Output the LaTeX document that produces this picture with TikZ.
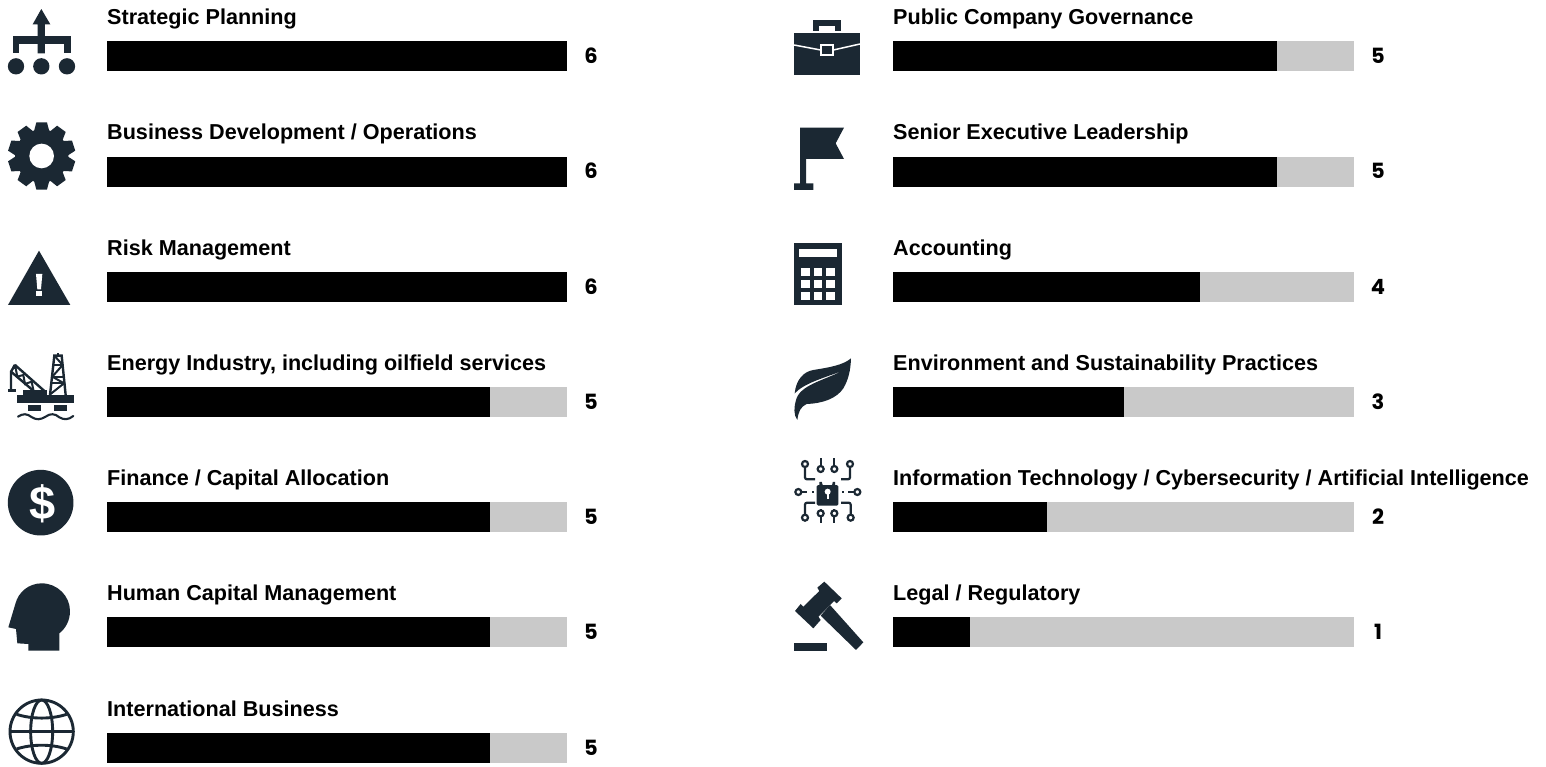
\documentclass[tikz,border=0pt]{standalone}
\usepackage{fontspec}
\setmainfont{Liberation Sans}
\newfontfamily\numfont{Poppins}
\definecolor{ink}{HTML}{1B2833}
\definecolor{track}{HTML}{C9C9C9}
\tikzset{
  zoomed/.style 2 args={shift={(#1,#2)},x=.3333pt,y=-.3333pt},
  labeltext/.style={anchor=base west,inner sep=0pt,font=\fontsize{21.6}{24}\selectfont\bfseries,text=black},
  valuetext/.style={anchor=base,inner sep=0pt,font=\fontsize{21}{24}\numfont\bfseries,text=black},
  icon/.style={fill=ink,draw=none},
  iconline/.style={draw=ink,fill=none,line width=#1},
  iconline/.default=2pt,
  cut/.style={fill=white,draw=none},
  cutline/.style={draw=white,fill=none,line width=#1},
}
% #1 name, #2 bar x, #3 bar top y, #4 track width, #5 value, #6 label
\newcommand{\skillbar}[6]{%
  \fill[track] (#2,#3) rectangle ++(#4,30);
  \fill[black] (#2,#3) rectangle ++({#4*#5/6},30);
  \node[labeltext] (#1-label) at (#2,#3-17) {#6};
  \node[valuetext] (#1-value) at (#2+#4+24,#3+22) {#5};
}
\begin{document}
\begin{tikzpicture}[x=1pt,y=-1pt]
\useasboundingbox (0,0) rectangle (1546,766);
\fill[white] (0,0) rectangle (1546,766);
\skillbar{a}{107}{41}{460}{6}{Strategic Planning}
\skillbar{b}{107}{156.5}{460}{6}{Business Development / Operations}
\skillbar{c}{107}{272}{460}{6}{Risk Management}
\skillbar{d}{107}{387}{460}{5}{Energy Industry, including oilfield services}
\skillbar{e}{107}{502}{460}{5}{Finance / Capital Allocation}
\skillbar{f}{107}{617}{460}{5}{Human Capital Management}
\skillbar{g}{107}{733}{460}{5}{International Business}
\skillbar{h}{893}{41}{461}{5}{Public Company Governance}
\skillbar{i}{893}{156.5}{461}{5}{Senior Executive Leadership}
\skillbar{j}{893}{272}{461}{4}{Accounting}
\skillbar{k}{893}{387}{461}{3}{Environment and Sustainability Practices}
\skillbar{l}{893}{502}{461}{2}{Information Technology / Cybersecurity / Artificial Intelligence}
\skillbar{m}{893}{617}{461}{1}{Legal / Regulatory}

% strategic planning
\begin{scope}[zoomed={0}{0}]
\fill[icon] (124,27)--(151,73)--(135,73)--(135,160)--(113,160)--(113,73)--(98,73)--cycle;
\fill[icon] (38,109) rectangle (212,131);
\fill[icon] (38,109) rectangle (58,160);
\fill[icon] (191,109) rectangle (212,160);
\fill[icon] (48,199) circle (24.5);
\fill[icon] (124,199) circle (24.5);
\fill[icon] (201,199) circle (24.5);
\end{scope}

% gear
\begin{scope}[zoomed={0}{0}]
\fill[icon] (125,468) circle (80);
\foreach \a in {90,126,...,414} {
  \fill[icon] ([shift={(125,468)}]\a-18:76) -- ([shift={(125,468)}]\a-9:102) -- ([shift={(125,468)}]\a+9:102) -- ([shift={(125,468)}]\a+18:76) -- cycle;
}
\fill[cut] (125,468) circle (37);
\end{scope}

% warning triangle
\begin{scope}[zoomed={0}{200}]
\fill[icon] (117,152)--(211,315)--(24,315)--cycle;
\fill[cut] (108,222)--(127,222)--(123,268)--(112,268)--cycle;
\fill[cut] (108,272) rectangle (126,288);
\end{scope}

% oil rig
\begin{scope}[zoomed={0}{200}]
\fill[icon] (52,585) rectangle (222,610);
\fill[icon] (70,570) rectangle (141,585);
\fill[icon] (84,616) rectangle (124,633);
\fill[icon] (161,616) rectangle (201,633);
\draw[iconline=2.1pt,line cap=round] (54,650) .. controls (70,640) and (80,640) .. (96,652) .. controls (110,660) and (120,660) .. (137,650) .. controls (150,640) and (165,640) .. (178,652) .. controls (192,660) and (205,660) .. (220,648);
% derrick
\draw[iconline=2.4pt] (150,585)--(163,467)--(185,467)--(197,585);
\draw[iconline=2pt] (173,467)--(173,458);
\draw[iconline=2pt] (163,467)--(188,495)--(157,530)--(192,550)--(152,582);
\draw[iconline=1.8pt] (160,495)--(188,495) (157,530)--(192,530) (154,550)--(192,550);
% crane
\draw[iconline=2.4pt] (45,495)--(132,572);
\draw[iconline=2.4pt] (33,515)--(100,572);
\draw[iconline=2pt] (45,495)--(52,530)--(70,525)--(75,552)--(95,545)--(100,570);
\draw[iconline=2.4pt] (45,495)--(33,515)--(33,572);
\fill[icon] (24,566) rectangle (48,576);
\fill[icon] (45,500) circle (7);
\end{scope}

% dollar
\begin{scope}[zoomed={0}{430}]
\fill[icon] (122,218) circle (98.5);
\node[inner sep=0pt,text=white,font=\fontsize{47}{47}\selectfont\bfseries] (dollar) at (128,222) {\$};
\end{scope}

% head
\begin{scope}[zoomed={0}{430}]
\fill[icon] (125,460) .. controls (172,460) and (210,498) .. (210,543)
  .. controls (210,572) and (197,595) .. (178,610) -- (178,662) -- (85,662) -- (85,642) -- (52,640) -- (48,597) -- (25,592) -- (46,522)
  .. controls (55,485) and (88,460) .. (125,460) -- cycle;
\end{scope}

% globe
\begin{scope}[zoomed={0}{430}]
\draw[iconline=2.9pt] (125,905) circle (95);
\draw[iconline=2.9pt] (125,905) ellipse (33 and 95);
\draw[iconline=2.9pt] (30,905) -- (220,905);
\draw[iconline=2.9pt] (50,853) .. controls (95,868) and (155,868) .. (200,853);
\draw[iconline=2.9pt] (50,957) .. controls (95,942) and (155,942) .. (200,957);
\end{scope}

% briefcase
\begin{scope}[zoomed={780}{0}]
\fill[icon] (42,98) rectangle (240,225);
\fill[icon] (100,60) rectangle (183,93);
\fill[cut] (118,78) rectangle (165,93);
\draw[cutline=1.5pt] (42,135)--(122,150);
\draw[cutline=1.5pt] (160,150)--(240,132);
\draw[cutline=2pt] (124,135) rectangle (158,165);
\end{scope}

% flag
\begin{scope}[zoomed={780}{0}]
\fill[icon] (60,383)--(192,383)--(167,430)--(192,477)--(78,477)--(78,550)--(100,550)--(100,570)--(42,570)--(42,550)--(60,550)--cycle;
\end{scope}

% calculator
\begin{scope}[zoomed={780}{230}]
\fill[icon] (42,40) rectangle (186,225);
\fill[cut] (58,57) rectangle (170,80);
\foreach \cx in {64,101,138} \foreach \cy in {113,150,187} {
  \fill[cut] (\cx,\cy) rectangle ++(26,24);
}
\end{scope}

% leaf
\begin{scope}[zoomed={780}{230}]
\fill[icon] (213,385) .. controls (190,405) and (150,412) .. (100,420)
  .. controls (70,425) and (48,450) .. (44,490)
  .. controls (75,458) and (130,445) .. (188,422)
  .. controls (130,452) and (60,465) .. (48,510)
  .. controls (42,530) and (40,555) .. (52,570)
  .. controls (55,545) and (62,530) .. (80,522)
  .. controls (130,520) and (170,505) .. (190,475)
  .. controls (205,450) and (212,420) .. (213,385) -- cycle;
\end{scope}

% lock and circuit
\begin{scope}[zoomed={780}{450}]
\fill[icon,rounded corners=1.5pt] (110,105) rectangle (175,167);
\draw[iconline=2.4pt] (122,105) -- (122,96) arc[start angle=180,end angle=0,x radius=20,y radius=20] -- (162,105);
\fill[cut] (143,125) circle (9);
\fill[cut] (140,128) rectangle (146,148);
\foreach \px/\py/\qx/\qy/\rx/\ry in {75/42/75/88/105/88, 210/42/210/88/183/88, 75/203/75/158/105/158, 212/203/212/158/183/158} {
  \draw[iconline=2.2pt,rounded corners=2pt] (\px,\py) -- (\qx,\qy) -- (\rx,\ry);
  \draw[iconline=2.2pt,fill=white] (\px,\py) circle (9);
}
\foreach \px/\py/\ay/\by in {122/57/25/70, 163/57/25/70, 122/190/178/220, 163/190/178/220} {
  \draw[iconline=2.2pt] (\px,\ay) -- (\px,\by);
  \draw[iconline=2.2pt,fill=white] (\px,\py) circle (9);
}
\draw[iconline=2.2pt] (55,126) -- (82,126);
\draw[iconline=2.2pt,fill=white] (55,126) circle (9);
\fill[icon] (97,122) rectangle (103,130);
\draw[iconline=2.2pt] (205,126) -- (232,126);
\draw[iconline=2.2pt,fill=white] (232,126) circle (9);
\fill[icon] (187,122) rectangle (193,130);
\end{scope}

% gavel
\begin{scope}[zoomed={780}{450}]
\fill[icon] (133,395)--(185,445)--(170,460)--(162,453)--(115,500)--(122,510)--(100,535)--(45,483)--(62,462)--(70,470)--(118,423)--(112,413)--cycle;
\fill[icon] (150,465)--(250,577)--(228,600)--(122,497)--cycle;
\fill[icon] (42,579) rectangle (142,603);
\end{scope}
\end{tikzpicture}
\end{document}
